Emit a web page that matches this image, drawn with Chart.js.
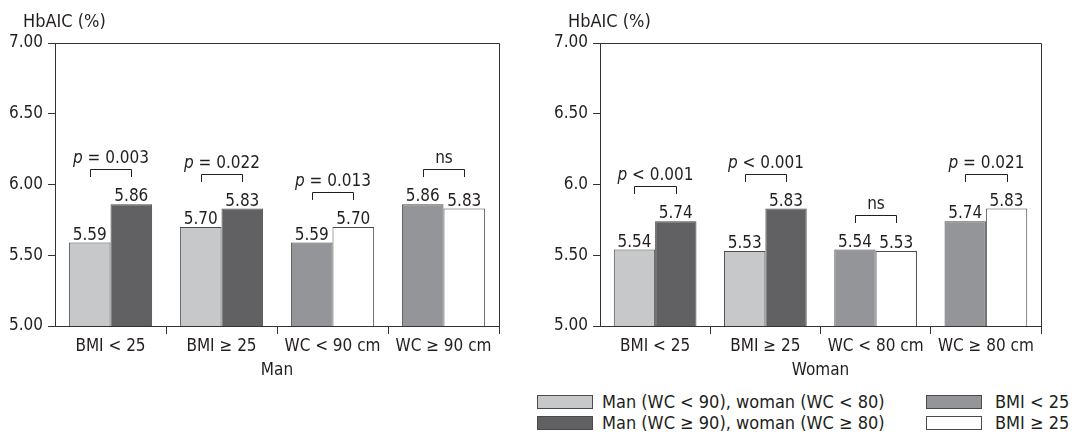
<!DOCTYPE html>
<html>
<head>
<meta charset="utf-8">
<script src="https://cdn.jsdelivr.net/npm/chart.js@4"></script>
<style>
  body { margin: 0; background: #fff; }
  #wrap { position: relative; width: 1072px; height: 436px; font-family: "DejaVu Sans Condensed", "Liberation Sans Narrow", Roboto, sans-serif; color: #231f20; }
  #manChart { position: absolute; left: 0; top: 0; }
  #womanChart { position: absolute; left: 545px; top: 0; }
  .lg-box { position: absolute; width: 54px; height: 12px; border: 1px solid #4a4a4a; }
  .lg-text { position: absolute; font-size: 18px; line-height: 20px; white-space: nowrap; }
</style>
</head>
<body>
<div id="wrap">
  <canvas id="manChart" width="530" height="390"></canvas>
  <canvas id="womanChart" width="527" height="390"></canvas>
  <div id="legend"></div>
</div>
<script>
// ---- data ----
const manCategories = ['BMI < 25', 'BMI \u2265 25', 'WC < 90 cm', 'WC \u2265 90 cm'];
const womanCategories = ['BMI < 25', 'BMI \u2265 25', 'WC < 80 cm', 'WC \u2265 80 cm'];

const seriesNames = [
    'Man (WC < 90), woman (WC < 80)',
    'Man (WC \u2265 90), woman (WC \u2265 80)',
    'BMI < 25',
    'BMI \u2265 25'
];

const manLowWC = [5.59, 5.70, null, null];
const manHighWC = [5.86, 5.83, null, null];
const manLowBMI = [null, null, 5.59, 5.86];
const manHighBMI = [null, null, 5.70, 5.83];

const womanLowWC = [5.54, 5.53, null, null];
const womanHighWC = [5.74, 5.83, null, null];
const womanLowBMI = [null, null, 5.54, 5.74];
const womanHighBMI = [null, null, 5.53, 5.83];

const manPValues = ['p = 0.003', 'p = 0.022', 'p = 0.013', 'ns'];
const womanPValues = ['p < 0.001', 'p < 0.001', 'ns', 'p = 0.021'];

const manTickLabels = ['5.00', '5.50', '6.00', '6.50', '7.00'];
const womanTickLabels = ['5.00', '5.50', '6.0', '6.50', '7.00'];

// ---- styles ----
const FAMILY = '"DejaVu Sans Condensed", "Liberation Sans Narrow", Roboto, sans-serif';
const INK = '#231f20';
const seriesColors = ['#c7c8ca', '#616163', '#939598', '#ffffff'];
const BAR_BORDER = '#4a4a4a';

Chart.defaults.font.family = FAMILY;
Chart.defaults.font.size = 17;
Chart.defaults.color = INK;

// value labels above bars and p-value brackets
const annotatePlugin = {
    id: 'annotate',
    afterDatasetsDraw(chart, args, opts) {
        const ctx = chart.ctx;
        ctx.save();
        ctx.fillStyle = INK;
        ctx.strokeStyle = INK;
        ctx.lineWidth = 1;
        ctx.font = '17px ' + FAMILY;
        ctx.textAlign = 'center';
        ctx.textBaseline = 'alphabetic';

        const byIndex = [];
        chart.data.datasets.forEach(function (ds, i) {
            const meta = chart.getDatasetMeta(i);
            meta.data.forEach(function (bar, j) {
                if (ds.data[j] == null) return;
                ctx.fillText(ds.data[j].toFixed(2), bar.x, bar.y - 3);
                (byIndex[j] = byIndex[j] || []).push(bar);
            });
        });

        opts.pTexts.forEach(function (txt, j) {
            const bars = byIndex[j];
            if (!bars || bars.length < 2) return;
            const x1 = Math.round(bars[0].x) + 0.5;
            const x2 = Math.round(bars[1].x) + 0.5;
            const top = Math.min(bars[0].y, bars[1].y);
            const yFoot = Math.round(top - 27);
            const yLine = yFoot - 8 + 0.5;
            ctx.beginPath();
            ctx.moveTo(x1, yFoot);
            ctx.lineTo(x1, yLine);
            ctx.lineTo(x2, yLine);
            ctx.lineTo(x2, yFoot);
            ctx.stroke();

            const cx = (x1 + x2) / 2;
            const ty = yLine - 7;
            if (txt.indexOf('p ') === 0) {
                const rest = txt.slice(1);
                ctx.font = 'italic 17px ' + FAMILY;
                const wp = ctx.measureText('p').width;
                ctx.font = '17px ' + FAMILY;
                const wr = ctx.measureText(rest).width;
                const start = cx - (wp + wr) / 2;
                ctx.textAlign = 'left';
                ctx.font = 'italic 17px ' + FAMILY;
                ctx.fillText('p', start, ty);
                ctx.font = '17px ' + FAMILY;
                ctx.fillText(rest, start + wp, ty);
                ctx.textAlign = 'center';
            } else {
                ctx.fillText(txt, cx, ty);
            }
        });
        ctx.restore();
    }
};

// box frame, y title on top and x title below
const framePlugin = {
    id: 'frame',
    afterDraw(chart, args, opts) {
        const a = chart.chartArea;
        const ctx = chart.ctx;
        ctx.save();
        ctx.strokeStyle = '#333';
        ctx.lineWidth = 1;
        ctx.beginPath();
        ctx.moveTo(a.left, Math.round(a.top) + 0.5);
        ctx.lineTo(Math.round(a.right) + 0.5, Math.round(a.top) + 0.5);
        ctx.lineTo(Math.round(a.right) + 0.5, a.bottom);
        ctx.stroke();

        ctx.fillStyle = INK;
        ctx.font = '18px ' + FAMILY;
        ctx.textAlign = 'left';
        ctx.textBaseline = 'middle';
        ctx.fillText('HbAIC (%)', a.left - 32, a.top - 21);
        ctx.textAlign = 'center';
        ctx.font = '17px ' + FAMILY;
        ctx.fillText(opts.xTitle, (a.left + a.right) / 2, a.bottom + 45);
        ctx.restore();
    }
};

function makeChart(canvasId, categories, series, tickLabels, pTexts, xTitle) {
    const datasets = series.map(function (values, i) {
        return {
            label: seriesNames[i],
            data: values,
            backgroundColor: seriesColors[i],
            borderColor: BAR_BORDER,
            borderWidth: 1,
            categoryPercentage: 0.75,
            barPercentage: 1
        };
    });

    return new Chart(document.getElementById(canvasId), {
        type: 'bar',
        data: { labels: categories, datasets: datasets },
        options: {
            responsive: false,
            devicePixelRatio: 1,
            animation: false,
            skipNull: true,
            layout: { padding: { top: 43, right: 31, left: 0, bottom: 0 } },
            plugins: {
                legend: { display: false },
                tooltip: { enabled: false },
                annotate: { pTexts: pTexts },
                frame: { xTitle: xTitle }
            },
            scales: {
                x: {
                    border: { color: '#333', width: 1 },
                    grid: {
                        offset: true,
                        drawOnChartArea: false,
                        drawTicks: true,
                        tickLength: 8,
                        color: function (c) {
                            return (c.index === 0 || c.index === categories.length) ? 'rgba(0,0,0,0)' : '#333';
                        }
                    },
                    ticks: { autoSkip: false, maxRotation: 0, padding: 2, color: INK },
                    afterFit: function (scale) { scale.height = 64; }
                },
                y: {
                    min: 5,
                    max: 7,
                    border: { color: '#333', width: 1 },
                    grid: { drawOnChartArea: false, drawTicks: true, tickLength: 7, color: '#333' },
                    ticks: {
                        stepSize: 0.5,
                        padding: 5,
                        color: INK,
                        callback: function (v, i) { return tickLabels[i]; }
                    },
                    afterFit: function (scale) { scale.width = 55; }
                }
            }
        },
        plugins: [annotatePlugin, framePlugin]
    });
}

makeChart('manChart', manCategories,
    [manLowWC, manHighWC, manLowBMI, manHighBMI],
    manTickLabels, manPValues, 'Man');

makeChart('womanChart', womanCategories,
    [womanLowWC, womanHighWC, womanLowBMI, womanHighBMI],
    womanTickLabels, womanPValues, 'Woman');

// legend at bottom right
const legendPos = [
    { box: [537, 395], text: [602, 392] },
    { box: [537, 416], text: [602, 413] },
    { box: [926, 395], text: [995, 392] },
    { box: [926, 416], text: [995, 413] }
];
const legend = document.getElementById('legend');
seriesNames.forEach(function (name, i) {
    const box = document.createElement('div');
    box.className = 'lg-box';
    box.style.left = legendPos[i].box[0] + 'px';
    box.style.top = legendPos[i].box[1] + 'px';
    box.style.background = seriesColors[i];
    legend.appendChild(box);

    const t = document.createElement('div');
    t.className = 'lg-text';
    t.style.left = legendPos[i].text[0] + 'px';
    t.style.top = legendPos[i].text[1] + 'px';
    t.textContent = name;
    legend.appendChild(t);
});
</script>
</body>
</html>
